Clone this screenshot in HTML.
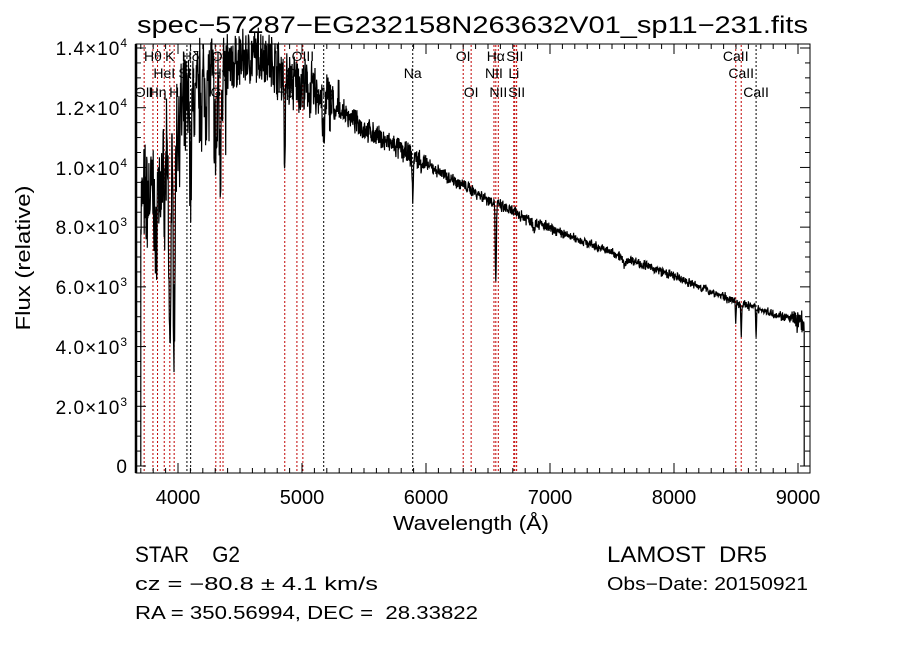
<!DOCTYPE html>
<html><head><meta charset="utf-8"><style>
body{margin:0;background:#fff;width:900px;height:649px;overflow:hidden}
svg{display:block}
text{font-family:"Liberation Sans",sans-serif;fill:#000}
</style></head><body>
<svg id="s" width="900" height="649" viewBox="0 0 900 649" xmlns="http://www.w3.org/2000/svg">
<rect width="900" height="649" fill="#fff"/>
<text x="137" y="33" font-size="24" textLength="671" lengthAdjust="spacingAndGlyphs">spec−57287−EG232158N263632V01_sp11−231.fits</text>
<g id="lines"></g>
<path id="spec" fill="none" stroke="#000" stroke-width="1.2"/>
<rect x="136" y="44" width="674" height="429" fill="none" stroke="#000" stroke-width="1"/>
<line x1="136" y1="44" x2="136" y2="473" stroke="#000" stroke-width="2.5"/>
<g id="ticks" stroke="#000" stroke-width="1"></g>
<g id="labels" font-size="14"></g>
<g font-size="20" text-anchor="middle">
<text x="178" y="504">4000</text>
<text x="302" y="504">5000</text>
<text x="426" y="504">6000</text>
<text x="550" y="504">7000</text>
<text x="674" y="504">8000</text>
<text x="798" y="504">9000</text>
</g>
<text x="393" y="530" font-size="20" textLength="156" lengthAdjust="spacingAndGlyphs">Wavelength (Å)</text>
<text transform="translate(30,258) rotate(-90)" font-size="20" text-anchor="middle" textLength="145" lengthAdjust="spacingAndGlyphs">Flux (relative)</text>
<g font-size="19" text-anchor="end" letter-spacing="1">
<text x="128" y="473">0</text>
<text x="128" y="414">2.0×10<tspan font-size="12" dy="-8">3</tspan></text>
<text x="128" y="354">4.0×10<tspan font-size="12" dy="-8">3</tspan></text>
<text x="128" y="294">6.0×10<tspan font-size="12" dy="-8">3</tspan></text>
<text x="128" y="234">8.0×10<tspan font-size="12" dy="-8">3</tspan></text>
<text x="128" y="175">1.0×10<tspan font-size="12" dy="-8">4</tspan></text>
<text x="128" y="115">1.2×10<tspan font-size="12" dy="-8">4</tspan></text>
<text x="128" y="55">1.4×10<tspan font-size="12" dy="-8">4</tspan></text>
</g>
<text x="135" y="562" font-size="22" textLength="105" lengthAdjust="spacingAndGlyphs">STAR&#160;&#160;&#160;&#160;G2</text>
<text x="135" y="590" font-size="18" font-family="Liberation Serif" textLength="243" lengthAdjust="spacingAndGlyphs">cz = −80.8 ± 4.1 km/s</text>
<text x="135" y="619" font-size="18" textLength="343" lengthAdjust="spacingAndGlyphs">RA = 350.56994, DEC =&#160; 28.33822</text>
<text x="607" y="562" font-size="22" textLength="160" lengthAdjust="spacingAndGlyphs">LAMOST&#160; DR5</text>
<text x="607" y="590" font-size="18" textLength="201" lengthAdjust="spacingAndGlyphs">Obs−Date: 20150921</text>
</svg>
<script>
var X=function(l){return 178+(l-4000)*0.124},Y=function(f){return 466-f*418/14000};
var ns="http://www.w3.org/2000/svg";
function el(p,t,a,txt){var e=document.createElementNS(ns,t);for(var k in a)e.setAttribute(k,a[k]);if(txt)e.textContent=txt;document.getElementById(p).appendChild(e);}
var L=[[3727,"OII",3],[3798,"Hθ",1],[3835,"Hη",3],[3889,"HeI",2],[3934,"K",1],[3969,"H",3],[4072,"SII",2],[4102,"Hδ",1],[4305,"G",3],[4340,"Hγ",2],[4363,"OIII",1],[4861,"Hβ",3],[4959,"OIII",2],[5007,"OIII",1],[5175,"Mg",3],[5893,"Na",2],[6300,"OI",1],[6364,"OI",3],[6548,"NII",2],[6563,"Hα",1],[6583,"NII",3],[6708,"Li",2],[6716,"SII",1],[6731,"SII",3],[8498,"CaII",1],[8542,"CaII",2],[8662,"CaII",3]];
L.forEach(function(a){var x=X(a[0]);var c=(a[0]>4800&&a[0]<5100)||a[0]<4400&&a[0]!=4072&&a[0]!=4102||a[0]>6200&&a[0]<6800||a[0]>8400&&a[0]<8600;
el("lines","line",{x1:x,x2:x,y1:45,y2:472,stroke:c?"#c00000":"#000","stroke-width":1,"stroke-dasharray":"2,2"});
el("labels","text",{x:x,y:[0,61,78,97][a[2]],"text-anchor":"middle"},a[1]);});
for(var l=3700;l<=9100;l+=100){var x=X(l);if(x<136||x>810)continue;var m=l%1000==0;el("ticks","line",{x1:x,x2:x,y1:473,y2:m?463:468});el("ticks","line",{x1:x,x2:x,y1:44,y2:m?54:49});}
for(var f=0;f<=14000;f+=500){var y=Y(f);var m=f%2000==0;el("ticks","line",{x1:136,x2:m?146:141,y1:y,y2:y});el("ticks","line",{x1:810,x2:m?800:805,y1:y,y2:y});}
var seed=7;function r(){seed=(seed*16807)%2147483647;return seed/2147483647-0.5;}
function cont(l){var pts=[[3700,8800],[3850,9300],[4000,11500],[4200,12600],[4500,13600],[4700,13800],[4900,12900],[5200,12300],[5500,11300],[6000,10100],[6300,9400],[6600,8700],[7000,7950],[7500,7150],[8000,6350],[8500,5500],[9000,4850],[9100,4700]];
for(var i=0;i<pts.length-1;i++)if(l<=pts[i+1][0]){var t=(l-pts[i][0])/(pts[i+1][0]-pts[i][0]);return pts[i][1]+t*(pts[i+1][1]-pts[i][1]);}return 4700;}
var ab=[[3934,6500,8],[3969,6000,8],[3820,2500,6],[3890,2000,5],[4102,2500,6],[4305,2500,10],[4340,3500,5],[4383,1500,4],[4861,3500,4],[5175,1500,8],[5270,800,5],[5893,1500,4],[6563,2700,4],[8498,800,3],[8542,1100,3],[8662,1000,3],[7600,250,15],[6870,200,10]];
var d="M"+X(3700).toFixed(1)+","+Y(0);
for(var l=3700;l<=9050;l+=2.5){var f=cont(l);var n=l<4400?3000:l<5300?1500:l<6000?600:l<7000?350:250;f+=r()*n+r()*n*0.5;
ab.forEach(function(a){f-=a[1]*Math.exp(-Math.pow((l-a[0])/a[2],2)/2);});
if(l>8950)f+=r()*600;
d+=" L"+X(l).toFixed(1)+","+Y(Math.max(f,0)).toFixed(1);}
d+=" L"+X(9050).toFixed(1)+","+Y(0);
document.getElementById("spec").setAttribute("d",d);
</script>
</body></html>
